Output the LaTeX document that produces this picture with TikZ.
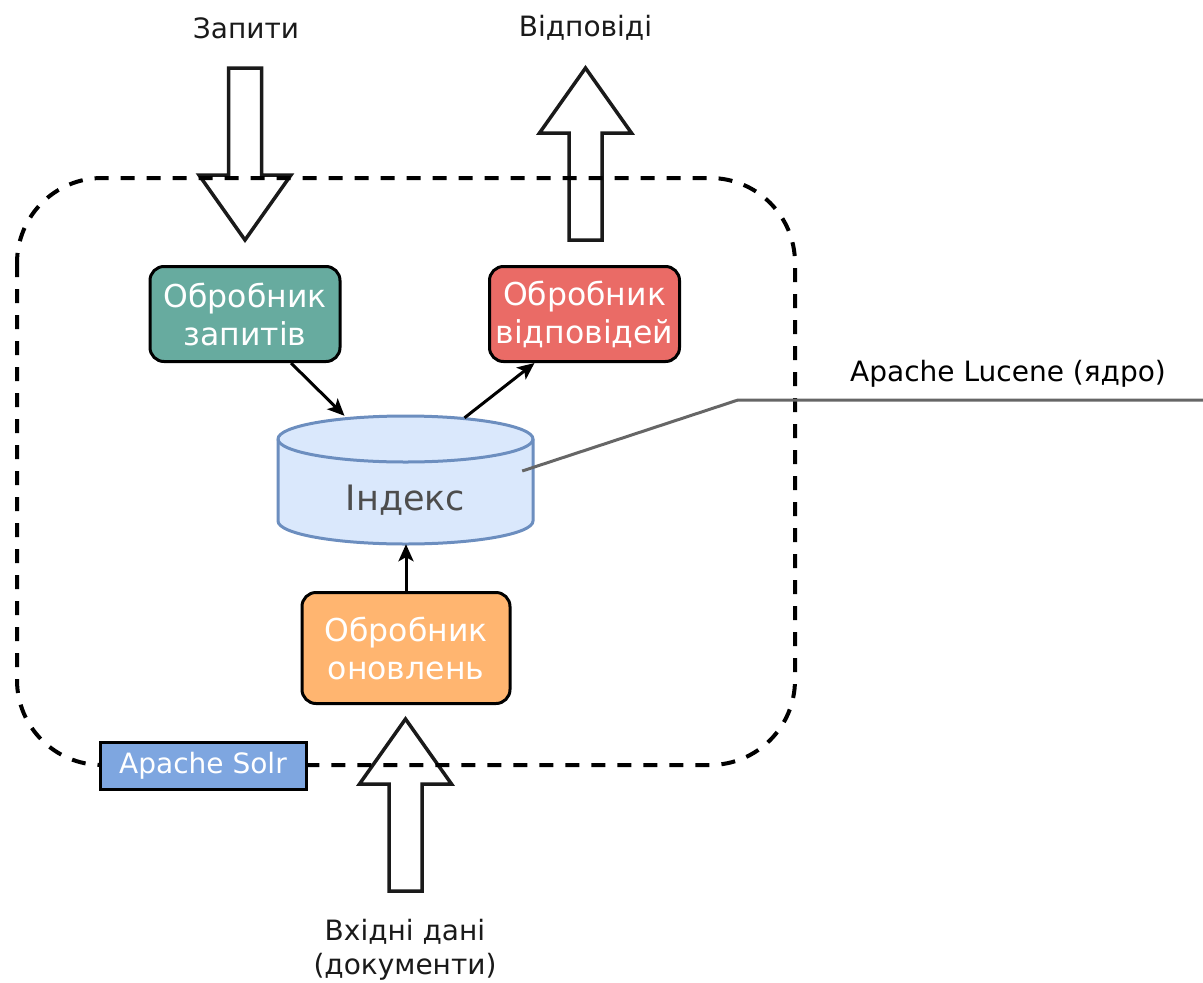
\documentclass[tikz,border=0pt]{standalone}
\usepackage{fontspec}
\setmainfont{DejaVu Sans}
\usetikzlibrary{arrows.meta,calc}

\definecolor{txtcol}{HTML}{1A1A1A}
\definecolor{zapcol}{HTML}{67AB9F}
\definecolor{vidcol}{HTML}{EA6B66}
\definecolor{onovcol}{HTML}{FFB570}
\definecolor{solrcol}{HTML}{7EA6E0}
\definecolor{idxfill}{HTML}{DAE8FC}
\definecolor{idxdraw}{HTML}{6C8EBF}
\definecolor{idxtxt}{HTML}{4D4D4D}
\definecolor{luccol}{HTML}{666666}

\tikzset{
  proc/.style={draw=black, line width=3pt, rounded corners=14pt, text=white, align=center,
    minimum width=190pt, minimum height=95pt, font=\fontsize{31.5}{38}\selectfont},
  lbl/.style={text=txtcol, align=center, font=\fontsize{28}{34}\selectfont},
  blockarrow/.style={draw=txtcol, fill=white, line width=3.5pt, line join=miter},
  edge/.style={line width=3pt, -{Stealth[length=17pt,width=15pt,inset=4pt]}},
}

\begin{document}
\begin{tikzpicture}[x=1pt,y=-1pt] % pixel coordinates, y down
   \useasboundingbox (0,0) rectangle (1203,983);
   \newcommand{\bigarr}[4]{\draw[blockarrow] ({#1-16.5},#2) -- ({#1-16.5},#3) -- ({#1-46},#3)
     -- (#1,#4) -- ({#1+46},#3) -- ({#1+16.5},#3) -- ({#1+16.5},#2) -- cycle;}
   \bigarr{245}{68}{175}{240}
   \bigarr{585.5}{240}{133}{68}
   \bigarr{405.5}{891}{784}{719}
   \draw[line width=4pt, dash pattern=on 14pt off 12pt, rounded corners=85pt]
    (17,178) rectangle (795,765);

   \node[proc, fill=zapcol] (zap) at (245,314) {Обробник\\запитів};
   \node[proc, fill=vidcol] (vid) at (584.5,314) {Обробник\\відповідей};
   \node[proc, fill=onovcol, minimum width=208pt, minimum height=111pt] (onov) at (406,648) {Обробник\\оновлень};
   % index cylinder
   \node[minimum width=255pt, minimum height=128pt, inner sep=0pt] (idx) at (405.5,480) {};
   \draw[draw=idxdraw, fill=idxfill, line width=3pt]
    (278,439) -- (278,521) arc[start angle=180, end angle=0, x radius=127.5, y radius=23]
    -- (533,439) arc[start angle=0, end angle=-180, x radius=127.5, y radius=23] -- cycle;
   \draw[draw=idxdraw, line width=3pt]
    (278,439) arc[start angle=180, end angle=0, x radius=127.5, y radius=23];
   \node[text=idxtxt, font=\fontsize{35}{42}\selectfont] (idxlbl) at (405.5,500) {Індекс};
   \node[draw=black, line width=3pt, fill=solrcol, text=white, minimum width=206pt, minimum height=47pt,
    font=\fontsize{28}{34}\selectfont] (solr) at (203,765.5) {Apache Solr};

   \draw[edge] ($(zap.south)+(46,0)$) -- ($(idx.north)+(-61,0)$);
   \draw[edge] ($(idx.north)+(59,2)$) -- ($(vid.south)+(-50,0)$);
   \draw[edge] (onov.north) -- (onov.north |- idx.south);

   \coordinate (lucknee) at (738,400);
   \coordinate (lucend) at (1203,400);
   \draw[luccol, line width=3pt] ($(idx.east)+(-11,-9)$) -- (lucknee) -- (lucend);
   \node[lbl, text=black] (luc) at (1008,374) {Apache Lucene (ядро)};

   \node[lbl] (zapyty) at (246,28) {Запити};
   \node[lbl] (vidpovidi) at (585.5,28) {Відповіді};
   \node[lbl] (vkhid) at (405,950) {Вхідні дані\\(документи)};
\end{tikzpicture}
\end{document}
